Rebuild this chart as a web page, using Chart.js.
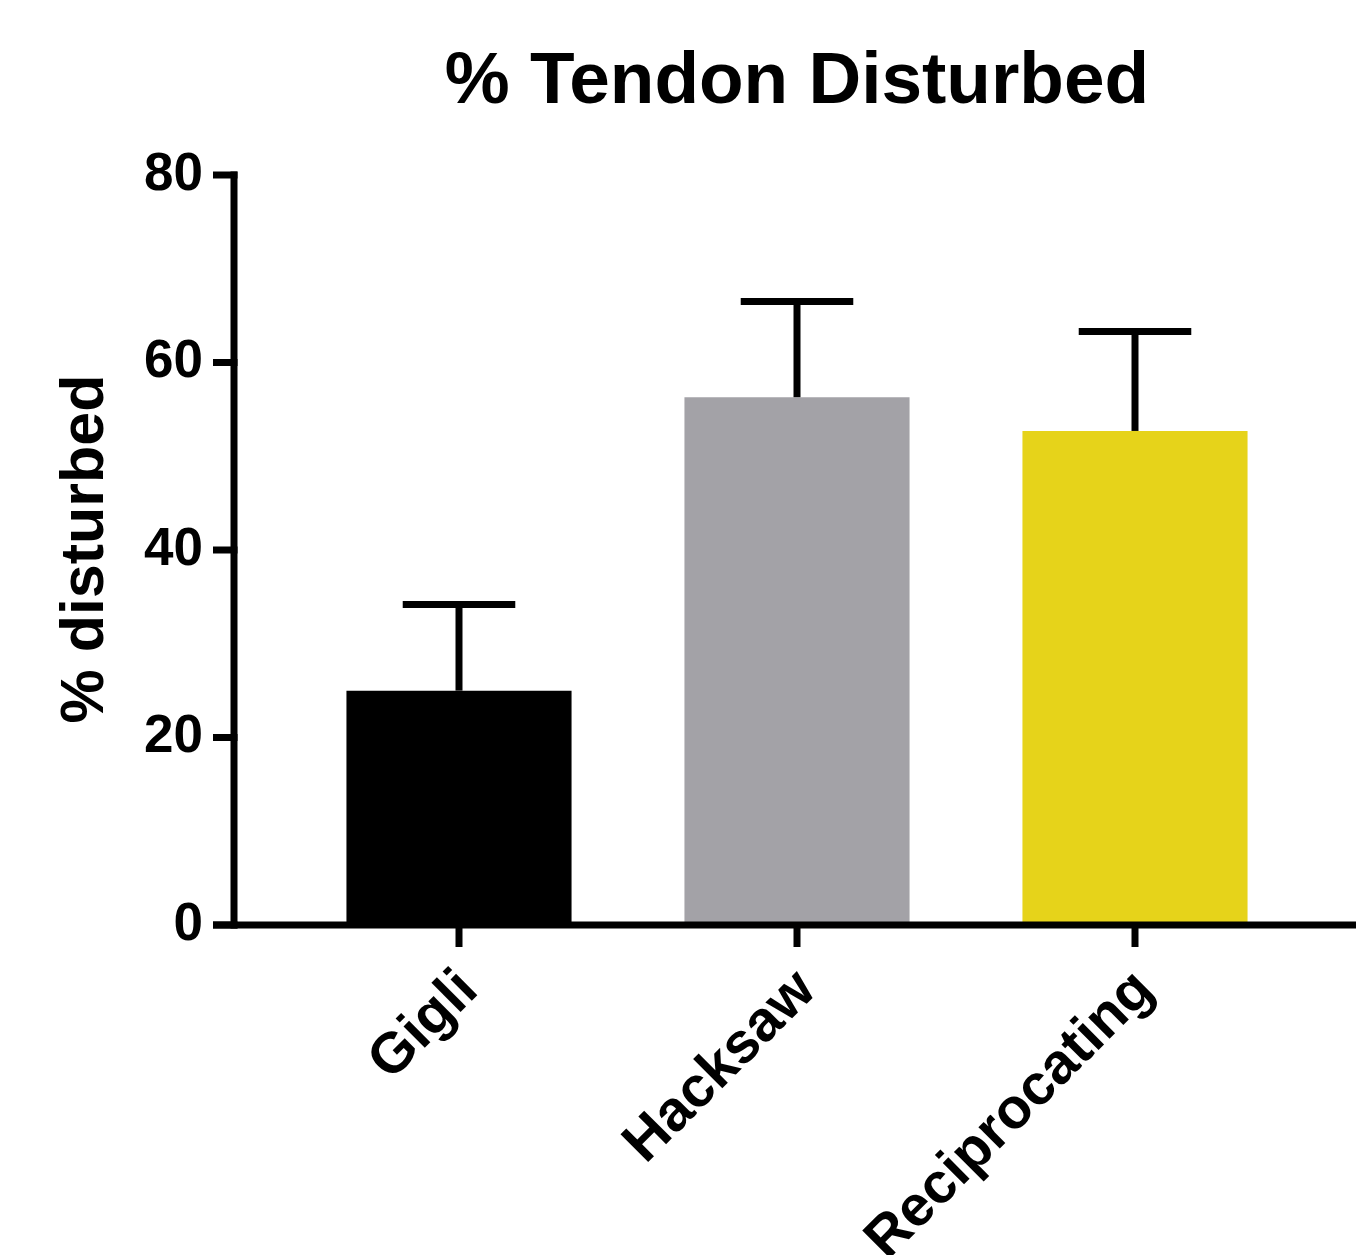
<!DOCTYPE html>
<html>
<head>
<meta charset="utf-8">
<script src="https://cdn.jsdelivr.net/npm/chart.js@4.4.1/dist/chart.umd.min.js"></script>
<style>
  html, body { margin: 0; padding: 0; background: #ffffff; }
  #wrap { width: 1356px; height: 1255px; }
</style>
</head>
<body>
<div id="wrap"><canvas id="c" width="1356" height="1255"></canvas></div>
<script>
// Groups and their mean % tendon disturbed, with upper SD
const categories = ['Gigli', 'Hacksaw', 'Reciprocating'];
const means = [25.0, 56.3, 52.7];
const errorsUp = [9.2, 10.2, 10.6];
const barColors = ['#000000', '#a3a2a7', '#e6d31a'];
const yMin = 0;
const yMax = 80;
const yStep = 20;
const chartTitle = '% Tendon Disturbed';
const yTitle = '% disturbed';

const FONT = '"Liberation Sans", Arial, Helvetica, sans-serif';
const LINE_W = 7;
const AXIS_GAP = 56;      // space between y axis line and first bar slot
const TICK_LEN = 21;

// Upward error bars with caps
const errorBars = {
  id: 'errorBars',
  afterDatasetsDraw(chart) {
    const ctx = chart.ctx;
    const y = chart.scales.y;
    const meta = chart.getDatasetMeta(0);
    ctx.save();
    ctx.strokeStyle = '#000';
    ctx.lineWidth = LINE_W;
    ctx.lineCap = 'butt';
    meta.data.forEach((bar, i) => {
      const top = y.getPixelForValue(means[i] + errorsUp[i]);
      const half = bar.width / 4;
      ctx.beginPath();
      ctx.moveTo(bar.x, bar.y);
      ctx.lineTo(bar.x, top);
      ctx.stroke();
      ctx.beginPath();
      ctx.moveTo(bar.x - half, top);
      ctx.lineTo(bar.x + half, top);
      ctx.stroke();
    });
    ctx.restore();
  }
};

// Axis lines, tick marks, title and y axis title
const frame = {
  id: 'frame',
  afterDraw(chart) {
    const ctx = chart.ctx;
    const area = chart.chartArea;
    const x = chart.scales.x;
    const y = chart.scales.y;
    const axisX = area.left - AXIS_GAP;
    const zeroY = y.getPixelForValue(0);
    ctx.save();
    ctx.strokeStyle = '#000';
    ctx.lineWidth = LINE_W;
    ctx.lineCap = 'butt';

    // y axis
    ctx.beginPath();
    ctx.moveTo(axisX, y.getPixelForValue(yMax) - LINE_W / 2);
    ctx.lineTo(axisX, zeroY + LINE_W / 2);
    ctx.stroke();
    for (let v = yMin; v <= yMax; v += yStep) {
      const py = y.getPixelForValue(v);
      ctx.beginPath();
      ctx.moveTo(axisX - TICK_LEN, py);
      ctx.lineTo(axisX + LINE_W / 2, py);
      ctx.stroke();
    }

    // x axis
    ctx.beginPath();
    ctx.moveTo(axisX - TICK_LEN, zeroY);
    ctx.lineTo(chart.width, zeroY);
    ctx.stroke();
    categories.forEach((c, i) => {
      const px = x.getPixelForValue(i);
      ctx.beginPath();
      ctx.moveTo(px, zeroY);
      ctx.lineTo(px, zeroY + 22);
      ctx.stroke();
    });

    // chart title
    ctx.fillStyle = '#000';
    ctx.font = 'bold 73px ' + FONT;
    ctx.textAlign = 'center';
    ctx.textBaseline = 'alphabetic';
    ctx.fillText(chartTitle, (area.left + area.right) / 2, 103);

    // y axis title
    ctx.translate(86, (area.top + area.bottom) / 2 - 1);
    ctx.rotate(-Math.PI / 2);
    ctx.font = 'bold 61px ' + FONT;
    ctx.textBaseline = 'middle';
    ctx.fillText(yTitle, 0, 0);
    ctx.restore();
  }
};

new Chart(document.getElementById('c'), {
  type: 'bar',
  data: {
    labels: categories,
    datasets: [{
      data: means,
      backgroundColor: barColors,
      borderWidth: 0,
      categoryPercentage: 1.0,
      barPercentage: 0.666
    }]
  },
  options: {
    responsive: false,
    animation: false,
    devicePixelRatio: 1,
    layout: { padding: { top: 175, right: 52, bottom: 0, left: 0 } },
    plugins: {
      legend: { display: false },
      title: { display: false },
      tooltip: { enabled: false }
    },
    scales: {
      x: {
        grid: { display: false, drawTicks: false, tickLength: 0 },
        border: { display: false },
        ticks: {
          color: '#000',
          font: { family: FONT, size: 57, weight: 'bold' },
          minRotation: 45,
          maxRotation: 45,
          autoSkip: false,
          padding: 32,
          labelOffset: 10
        },
        afterFit(scale) { scale.height = 330; }
      },
      y: {
        min: yMin,
        max: yMax,
        grid: { display: false, drawTicks: false, tickLength: 0 },
        border: { display: false },
        ticks: {
          stepSize: yStep,
          color: '#000',
          font: { family: FONT, size: 53, weight: 'bold' },
          padding: 87
        },
        afterFit(scale) { scale.width = 290; }
      }
    }
  },
  plugins: [errorBars, frame]
});
</script>
</body>
</html>
